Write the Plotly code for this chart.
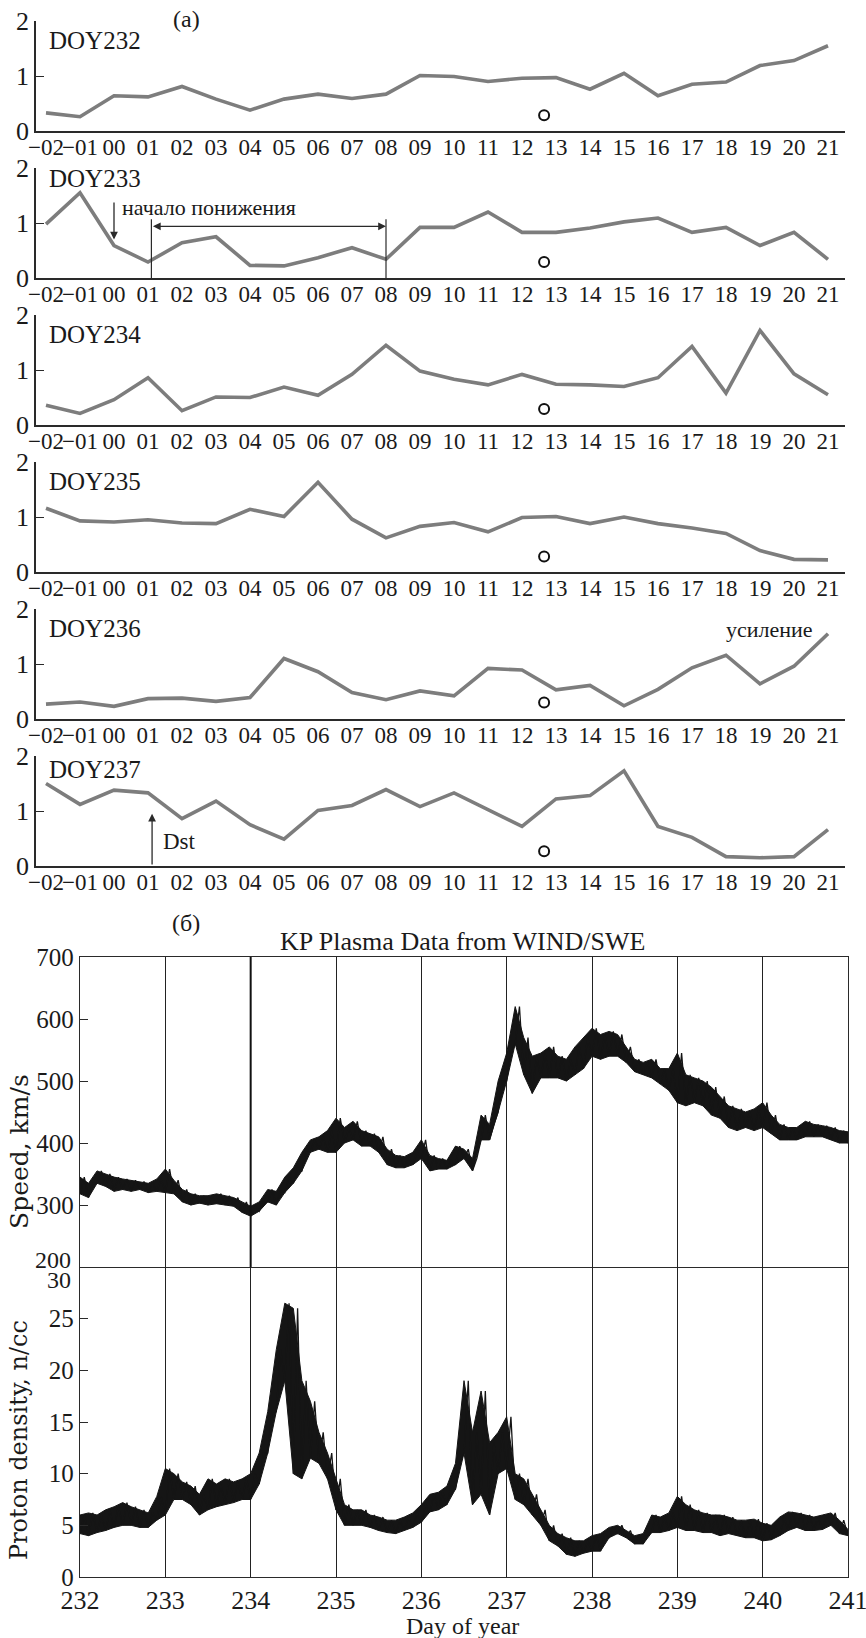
import numpy as np
import plotly.graph_objects as go

W, H = 866, 1638

# ---------------- data: panel (a) ----------------
hours = list(range(-2, 22))
hour_labels = ['\u221202', '\u221201'] + [f'{h:02d}' for h in range(0, 22)]

doy232 = [0.33, 0.26, 0.64, 0.62, 0.81, 0.58, 0.38, 0.58, 0.67, 0.59, 0.67, 1.01,
          0.99, 0.90, 0.96, 0.97, 0.76, 1.05, 0.64, 0.85, 0.89, 1.19, 1.28, 1.55]
doy233 = [0.98, 1.55, 0.59, 0.29, 0.64, 0.75, 0.23, 0.22, 0.37, 0.55, 0.34, 0.92,
          0.92, 1.20, 0.83, 0.83, 0.91, 1.02, 1.09, 0.83, 0.92, 0.59, 0.83, 0.34]
doy234 = [0.36, 0.21, 0.46, 0.86, 0.26, 0.51, 0.50, 0.69, 0.54, 0.92, 1.45, 0.98,
          0.83, 0.73, 0.92, 0.74, 0.73, 0.70, 0.86, 1.43, 0.58, 1.72, 0.93, 0.55]
doy235 = [1.16, 0.93, 0.91, 0.95, 0.89, 0.88, 1.14, 1.01, 1.63, 0.96, 0.62, 0.83,
          0.90, 0.73, 0.99, 1.01, 0.88, 1.00, 0.88, 0.80, 0.70, 0.39, 0.23, 0.22]
doy236 = [0.27, 0.31, 0.23, 0.37, 0.38, 0.32, 0.39, 1.10, 0.86, 0.48, 0.35, 0.51,
          0.42, 0.92, 0.89, 0.53, 0.61, 0.24, 0.54, 0.93, 1.16, 0.64, 0.96, 1.55]
doy237 = [1.50, 1.12, 1.38, 1.33, 0.86, 1.18, 0.75, 0.49, 1.01, 1.10, 1.39, 1.08,
          1.33, 1.02, 0.72, 1.22, 1.28, 1.73, 0.72, 0.52, 0.17, 0.15, 0.17, 0.66]
panels = [doy232, doy233, doy234, doy235, doy236, doy237]
panel_names = ['DOY232', 'DOY233', 'DOY234', 'DOY235', 'DOY236', 'DOY237']
name_y = [1.64, 1.80, 1.64, 1.65, 1.64, 1.76]
circle_x = 12.65
circle_y = [0.285, 0.29, 0.29, 0.28, 0.30, 0.27]

# ---------------- data: panel (б) ----------------
days = np.round(np.arange(232.0, 241.001, 0.1), 2)
speed_lo = [318, 312, 335, 330, 322, 325, 322, 325, 320, 322,
            320, 318, 305, 300, 303, 300, 302, 300, 298, 288,
            282, 290, 305, 300, 320, 335, 355, 385, 390, 385,
            385, 400, 405, 395, 395, 385, 365, 360, 360, 365,
            375, 355, 358, 358, 365, 375, 355, 405, 405, 450,
            500, 560, 510, 480, 505, 505, 505, 500, 510, 520,
            540, 535, 540, 540, 530, 515, 510, 505, 495, 485,
            465, 460, 465, 460, 445, 440, 425, 420, 425, 420,
            425, 415, 405, 405, 405, 410, 410, 410, 405, 400,
            400]
speed_hi = [345, 335, 355, 350, 345, 342, 340, 338, 335, 342,
            358, 340, 325, 318, 315, 315, 318, 315, 312, 305,
            298, 305, 325, 322, 345, 360, 385, 405, 410, 420,
            440, 425, 435, 420, 415, 410, 390, 380, 378, 385,
            405, 380, 375, 372, 395, 390, 375, 445, 430, 500,
            545, 620, 570, 540, 545, 555, 540, 535, 555, 570,
            585, 575, 580, 575, 555, 535, 530, 535, 520, 520,
            545, 510, 505, 500, 490, 475, 460, 455, 450, 455,
            465, 445, 430, 425, 425, 435, 430, 428, 425, 420,
            418]
dens_lo = [4.2, 4.0, 4.3, 4.5, 4.8, 5.0, 5.0, 4.8, 4.8, 5.5,
           6.0, 7.5, 7.5, 7.0, 6.0, 6.5, 6.8, 7.0, 7.2, 7.5,
           7.5, 9.0, 12.0, 16.0, 19.0, 10.0, 9.5, 11.5, 11.0, 9.5,
           6.5, 5.0, 5.0, 5.0, 4.8, 4.5, 4.3, 4.2, 4.5, 4.8,
           5.3, 6.3, 6.5, 7.0, 8.5, 12.0, 7.0, 8.0, 6.0, 10.0,
           10.5, 7.5, 7.0, 6.0, 5.0, 3.5, 3.0, 2.2, 2.0, 2.3,
           2.5, 2.5, 3.8, 4.2, 3.8, 3.2, 3.2, 4.3, 4.3, 4.5,
           4.8, 4.5, 4.5, 4.3, 4.3, 4.0, 4.2, 4.0, 3.8, 3.8,
           3.5, 3.6, 4.0, 4.5, 4.8, 4.5, 4.5, 4.6, 5.0, 4.2,
           4.0]
dens_hi = [6.0, 6.2, 6.0, 6.5, 6.8, 7.2, 6.8, 6.5, 6.2, 7.8,
           10.5, 10.0, 9.2, 8.8, 8.0, 9.5, 9.0, 9.5, 9.2, 9.5,
           10.0, 12.0, 16.0, 22.0, 26.5, 26.0, 19.0, 17.0, 14.0, 12.0,
           9.5, 7.0, 6.5, 6.5, 6.0, 5.8, 5.5, 5.5, 5.8, 6.2,
           7.0, 8.0, 8.2, 8.8, 11.0, 19.0, 14.0, 18.0, 13.0, 14.0,
           15.5, 10.0, 9.5, 8.0, 6.5, 5.0, 4.2, 3.8, 3.5, 3.5,
           4.0, 4.2, 4.8, 5.0, 4.5, 4.0, 4.2, 6.0, 5.8, 6.2,
           7.8, 7.0, 6.5, 6.2, 6.0, 6.0, 5.8, 5.5, 5.5, 5.6,
           5.2, 5.0, 5.8, 6.3, 6.2, 6.0, 5.8, 6.0, 6.2, 5.5,
           4.6]
day_ticks = list(range(232, 242))
speed_ticks = [300, 400, 500, 600, 700]
dens_ticks = [0, 5, 10, 15, 20, 25]

assert len(days) == len(speed_lo) == len(speed_hi) == len(dens_lo) == len(dens_hi)


def zigzag(t, lo, hi):
    half = (t[1] - t[0]) / 2.0
    xs, ys = [], []
    for ti, a, b in zip(t, lo, hi):
        xs += [ti, ti + half]
        ys += [a, b]
    return xs, ys


SERIF = 'Liberation Serif'
TXT = '#1a1a1a'
AX = '#2a2a2a'
GRAY = '#7d7d7d'
INK = '#151515'

fig = go.Figure()
layout = dict(template='none', width=W, height=H, margin=dict(l=0, r=0, t=0, b=0, pad=0),
              autosize=False,
              paper_bgcolor='white', plot_bgcolor='white', showlegend=False,
              font=dict(family=SERIF, color=TXT))

bases = [131 + 147 * i for i in range(6)]
annotations = []
shapes = []

for i, vals in enumerate(panels):
    k = i + 1
    xa, ya = f'x{k}', f'y{k}'
    fig.add_trace(go.Scatter(x=hours, y=vals, mode='lines', xaxis=xa, yaxis=ya,
                             line=dict(color=GRAY, width=3.6), hoverinfo='skip'))
    fig.add_trace(go.Scatter(x=[circle_x], y=[circle_y[i]], mode='markers', xaxis=xa, yaxis=ya,
                             marker=dict(symbol='circle-open', size=10, color='#111',
                                         line=dict(width=2, color='#111')), hoverinfo='skip'))
    b = bases[i]
    layout[f'xaxis{k}'] = dict(domain=[36 / W, 845 / W], range=[-2.294, 21.5], anchor=ya,
                               automargin=False, showline=True, linecolor=AX, linewidth=1.5,
                               tickmode='array', tickvals=hours, ticktext=hour_labels,
                               ticks='', tickangle=0, showgrid=False, zeroline=False,
                               ticklabeloverflow='allow', ticklabelstandoff=-5,
                               tickfont=dict(family=SERIF, size=23, color=TXT))
    layout[f'yaxis{k}'] = dict(domain=[1 - b / H, 1 - (b - 110) / H], range=[0, 2], anchor=xa,
                               automargin=False, showline=True, linecolor=AX, linewidth=1.5,
                               tickmode='array', tickvals=[0, 1, 2], ticks='inside',
                               ticklen=8, tickwidth=1.3, tickcolor=AX,
                               showgrid=False, zeroline=False, ticklabeloverflow='allow',
                               tickfont=dict(family=SERIF, size=26, color=TXT))
    annotations.append(dict(x=-1.97, y=name_y[i], xref=xa, yref=ya, text=panel_names[i],
                            showarrow=False, xanchor='left', yanchor='middle',
                            font=dict(family=SERIF, size=25, color=TXT)))

# panel DOY233 markings
shapes.append(dict(type='line', xref='x2', yref='y2', x0=1.1, x1=1.1, y0=0, y1=1.07,
                   line=dict(color=AX, width=1.2)))
shapes.append(dict(type='line', xref='x2', yref='y2', x0=8.0, x1=8.0, y0=0, y1=1.07,
                   line=dict(color=AX, width=1.2)))
annotations.append(dict(x=8.0, y=0.94, ax=1.1, ay=0.94, xref='x2', yref='y2',
                        axref='x2', ayref='y2', text='', showarrow=True,
                        arrowhead=2, arrowside='end+start', arrowsize=1.2,
                        arrowwidth=1.3, arrowcolor=AX))
annotations.append(dict(x=0.0, y=0.70, ax=0.0, ay=1.40, xref='x2', yref='y2',
                        axref='x2', ayref='y2', text='', showarrow=True,
                        arrowhead=2, arrowsize=1.2, arrowwidth=1.3, arrowcolor=AX))
annotations.append(dict(x=0.17, y=1.29, xref='x2', yref='y2', text='начало понижения',
                        showarrow=False, xanchor='left', yanchor='middle',
                        font=dict(family=SERIF, size=22, color=TXT)))
# panel DOY236
annotations.append(dict(x=19.27, y=1.62, xref='x5', yref='y5', text='усиление',
                        showarrow=False, xanchor='center', yanchor='middle',
                        font=dict(family=SERIF, size=22, color=TXT)))
# panel DOY237
annotations.append(dict(x=1.12, y=0.95, ax=1.12, ay=0.0, xref='x6', yref='y6',
                        axref='x6', ayref='y6', text='', showarrow=True,
                        arrowhead=2, arrowsize=1.2, arrowwidth=1.3, arrowcolor=AX))
annotations.append(dict(x=1.38, y=0.45, xref='x6', yref='y6', text='Dst',
                        showarrow=False, xanchor='left', yanchor='middle',
                        font=dict(family=SERIF, size=23, color=TXT)))
annotations.append(dict(x=186 / W, y=1 - 19 / H, xref='paper', yref='paper', text='(a)',
                        showarrow=False, xanchor='center', yanchor='middle',
                        font=dict(family=SERIF, size=24, color=TXT)))

# ---------------- panel (б) ----------------
# noisy records: black band between the read minima and maxima, with a ragged trace on top
fig.add_trace(go.Scatter(x=days, y=speed_hi, mode='lines', xaxis='x7', yaxis='y7',
                         line=dict(color=INK, width=1), hoverinfo='skip'))
fig.add_trace(go.Scatter(x=days, y=speed_lo, mode='lines', xaxis='x7', yaxis='y7',
                         fill='tonexty', fillcolor=INK,
                         line=dict(color=INK, width=1), hoverinfo='skip'))
fig.add_trace(go.Scatter(x=days, y=dens_hi, mode='lines', xaxis='x8', yaxis='y8',
                         line=dict(color=INK, width=1), hoverinfo='skip'))
fig.add_trace(go.Scatter(x=days, y=dens_lo, mode='lines', xaxis='x8', yaxis='y8',
                         fill='tonexty', fillcolor=INK,
                         line=dict(color=INK, width=1), hoverinfo='skip'))
sx, sy = zigzag(days, speed_lo, speed_hi)
dx, dy = zigzag(days, dens_lo, dens_hi)
fig.add_trace(go.Scatter(x=sx, y=sy, mode='lines', xaxis='x7', yaxis='y7',
                         line=dict(color=INK, width=1.3), hoverinfo='skip'))
fig.add_trace(go.Scatter(x=dx, y=dy, mode='lines', xaxis='x8', yaxis='y8',
                         line=dict(color=INK, width=1.3), hoverinfo='skip'))

xdom = [80 / W, 848 / W]
layout['xaxis7'] = dict(domain=xdom, range=[232, 241], anchor='y7', automargin=False,
                        showline=True, mirror=True,
                        linecolor=AX, linewidth=1.4, tickmode='array', tickvals=day_ticks,
                        showticklabels=False, ticks='', showgrid=True, gridcolor='#222',
                        gridwidth=1, zeroline=False)
layout['yaxis7'] = dict(domain=[1 - 1267 / H, 1 - 957 / H], range=[200, 700], anchor='x7',
                        automargin=False, showline=True, mirror=True, linecolor=AX, linewidth=1.4,
                        tickmode='array', tickvals=speed_ticks, ticks='inside', ticklen=8,
                        tickwidth=1.3, tickcolor=AX, showgrid=False, zeroline=False,
                        tickfont=dict(family=SERIF, size=25, color=TXT))
layout['xaxis8'] = dict(domain=xdom, range=[232, 241], anchor='y8', automargin=False,
                        showline=True, mirror=False,
                        linecolor=AX, linewidth=1.4, tickmode='array', tickvals=day_ticks,
                        ticktext=[str(d) for d in day_ticks], ticks='', tickangle=0,
                        showgrid=True, gridcolor='#222', gridwidth=1, zeroline=False,
                        ticklabeloverflow='allow',
                        tickfont=dict(family=SERIF, size=26, color=TXT))
layout['yaxis8'] = dict(domain=[1 - 1577 / H, 1 - 1267 / H], range=[0, 30], anchor='x8',
                        automargin=False, showline=True, mirror=True, linecolor=AX, linewidth=1.4,
                        tickmode='array', tickvals=dens_ticks, ticks='inside', ticklen=8,
                        tickwidth=1.3, tickcolor=AX, showgrid=False, zeroline=False,
                        tickfont=dict(family=SERIF, size=25, color=TXT))

shapes.append(dict(type='line', xref='x7', yref='y7', x0=234, x1=234, y0=200, y1=700,
                   line=dict(color='#111', width=2)))

annotations += [
    dict(x=73 / W, y=200, xref='paper', yref='y7', text='200', showarrow=False,
         xanchor='right', yanchor='middle', yshift=7,
         font=dict(family=SERIF, size=24, color=TXT)),
    dict(x=73 / W, y=30, xref='paper', yref='y8', text='30', showarrow=False,
         xanchor='right', yanchor='middle', yshift=-13,
         font=dict(family=SERIF, size=24, color=TXT)),
    dict(x=186 / W, y=1 - 923 / H, xref='paper', yref='paper', text='(б)', showarrow=False,
         xanchor='center', yanchor='middle', font=dict(family=SERIF, size=24, color=TXT)),
    dict(x=462 / W, y=1 - 942 / H, xref='paper', yref='paper',
         text='KP Plasma Data from WIND/SWE', showarrow=False,
         xanchor='center', yanchor='middle', font=dict(family=SERIF, size=26, color=TXT)),
    dict(x=463 / W, y=1 - 1626 / H, xref='paper', yref='paper', text='Day of year',
         showarrow=False, xanchor='center', yanchor='middle',
         font=dict(family=SERIF, size=24, color=TXT)),
    dict(x=19 / W, y=1 - 1152 / H, xref='paper', yref='paper', text='Speed, km/s',
         showarrow=False, textangle=-90, xanchor='center', yanchor='middle',
         font=dict(family='DejaVu Serif', size=25, color=TXT)),
    dict(x=19 / W, y=1 - 1440 / H, xref='paper', yref='paper', text='Proton density, n/cc',
         showarrow=False, textangle=-90, xanchor='center', yanchor='middle',
         font=dict(family='DejaVu Serif', size=24, color=TXT)),
]

layout['annotations'] = annotations
layout['shapes'] = shapes
fig.update_layout(**layout)
fig.write_html('out.html')
